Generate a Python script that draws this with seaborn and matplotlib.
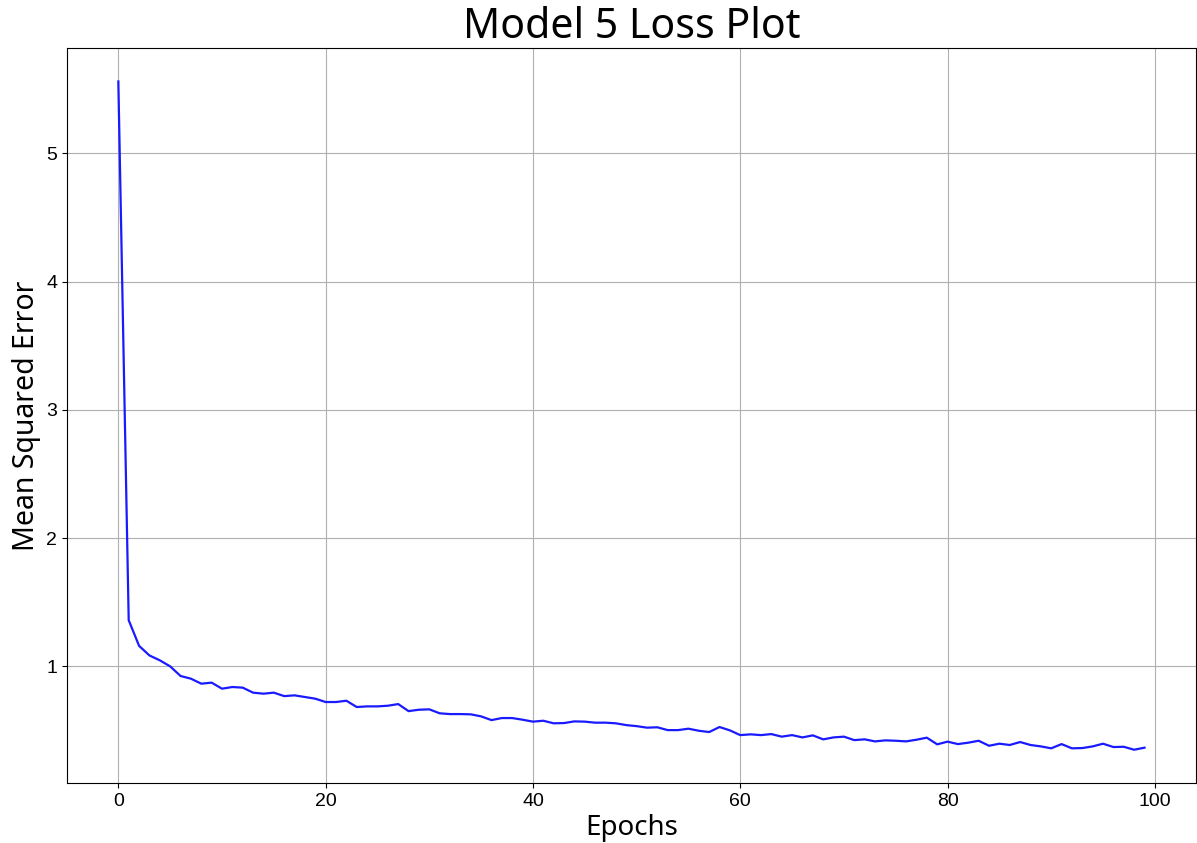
import numpy as np
import pandas as pd
import matplotlib
matplotlib.use('Agg')
import matplotlib.pyplot as plt
import seaborn as sns

TITLE = 'Model 5 Loss Plot'
X_LABEL = 'Epochs'
Y_LABEL = 'Mean Squared Error'

# loss per epoch
epochs = list(range(100))
loss = [
    5.56, 1.36, 1.16, 1.085, 1.047, 1.00, 0.925, 0.904, 0.865, 0.873,
    0.826, 0.839, 0.834, 0.795, 0.787, 0.795, 0.768, 0.774, 0.761, 0.748,
    0.722, 0.722, 0.732, 0.683, 0.688, 0.688, 0.693, 0.706, 0.651, 0.662,
    0.665, 0.634, 0.628, 0.628, 0.626, 0.610, 0.581, 0.597, 0.597, 0.584,
    0.569, 0.576, 0.556, 0.558, 0.571, 0.569, 0.561, 0.561, 0.556, 0.542,
    0.534, 0.522, 0.525, 0.503, 0.503, 0.514, 0.498, 0.488, 0.527, 0.501,
    0.464, 0.470, 0.464, 0.472, 0.452, 0.464, 0.446, 0.462, 0.431, 0.446,
    0.452, 0.425, 0.431, 0.415, 0.423, 0.420, 0.415, 0.428, 0.444, 0.392,
    0.413, 0.394, 0.405, 0.420, 0.381, 0.397, 0.387, 0.410, 0.387, 0.376,
    0.361, 0.394, 0.361, 0.363, 0.376, 0.397, 0.371, 0.373, 0.350, 0.366,
]

LABEL_FONT = ['Noto Sans', 'DejaVu Sans']
TICK_FONT = ['Liberation Sans', 'DejaVu Sans']


def main():
    df = pd.DataFrame({'epoch': epochs, 'loss': loss})

    fig = plt.figure(figsize=(11.97, 8.43), dpi=100)
    ax = fig.add_axes([0.056, 0.071, 0.943, 0.872])

    sns.lineplot(data=df, x='epoch', y='loss', color='#1a1aff',
                 linewidth=1.6, ax=ax)
    ax.grid(True, color='#b0b0b0', linewidth=0.8)
    ax.set_axisbelow(True)

    ax.set_title(TITLE, family=LABEL_FONT, fontsize=29.5, pad=4)
    ax.set_xlabel(X_LABEL, family=LABEL_FONT, fontsize=20, labelpad=3)
    ax.set_ylabel(Y_LABEL, family=LABEL_FONT, fontsize=20.5, labelpad=4)
    ax.set_yticks([1, 2, 3, 4, 5])
    for lab in ax.get_xticklabels() + ax.get_yticklabels():
        lab.set_family(TICK_FONT)
        lab.set_fontsize(14)

    fig.savefig('out.png', dpi=100)


if __name__ == '__main__':
    main()
